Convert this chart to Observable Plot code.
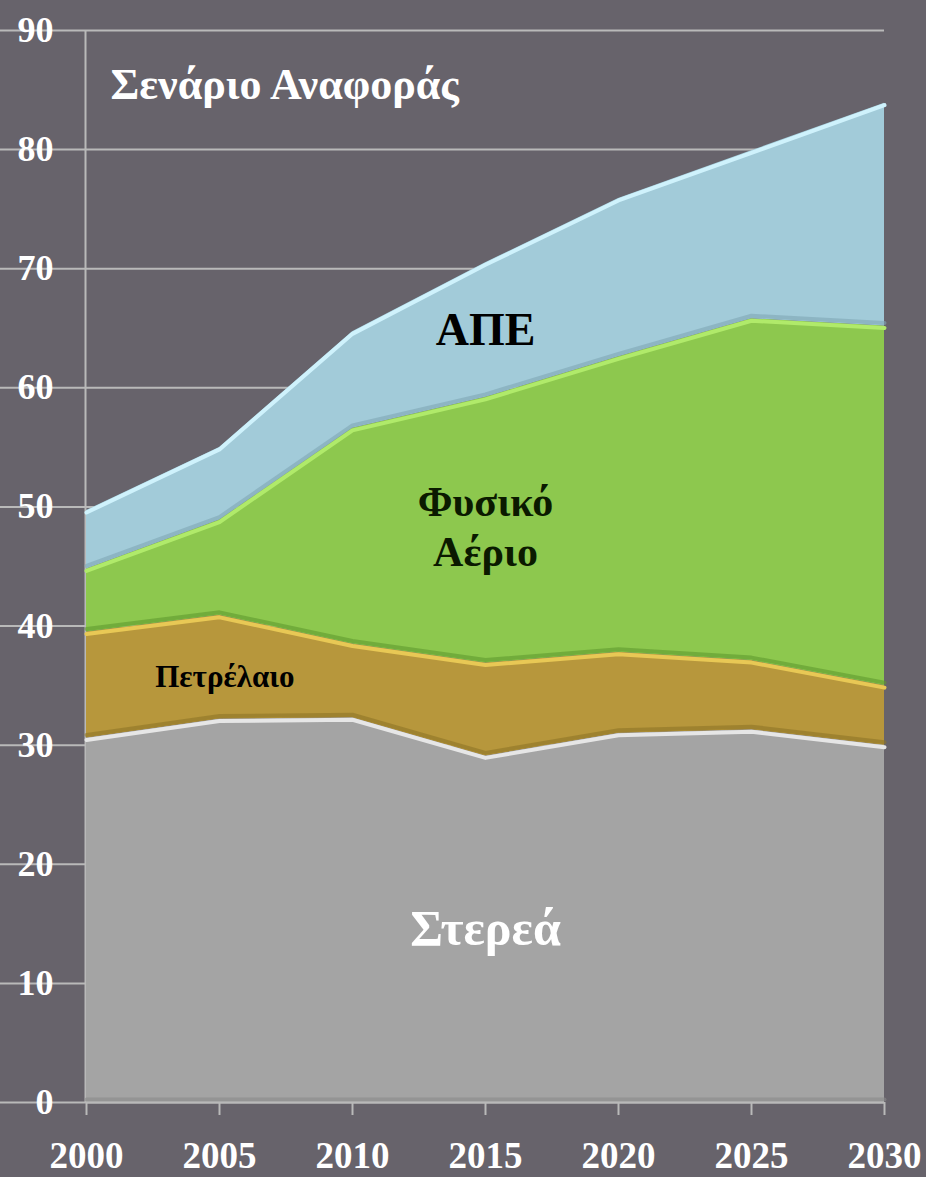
<!DOCTYPE html>
<html>
<head>
<meta charset="utf-8">
<script src="https://cdn.jsdelivr.net/npm/d3@7"></script>
<script src="https://cdn.jsdelivr.net/npm/@observablehq/plot@0.6"></script>
<style>
  html, body { margin: 0; padding: 0; background: #67636b; }
  #chart svg { display: block; }
</style>
</head>
<body>
<div id="chart"></div>
<script>
const years = [2000, 2005, 2010, 2015, 2020, 2025, 2030];
const seriesNames = ["Στερεά", "Πετρέλαιο", "Φυσικό Αέριο", "ΑΠΕ"];
const solids = [30.6, 32.2, 32.3, 29.1, 31.0, 31.3, 30.0];
const oil    = [8.9, 8.7, 6.2, 7.8, 6.8, 5.8, 5.0];
const gas    = [5.3, 8.0, 18.1, 22.3, 24.8, 28.7, 30.2];
const res    = [4.9, 6.1, 8.1, 11.3, 13.3, 14.1, 18.7];
const yTicks = [0, 10, 20, 30, 40, 50, 60, 70, 80, 90];
const title = "Σενάριο Αναφοράς";

const fills = ["#a4a4a4", "#b7973c", "#8dc84e", "#a2cbd9"];
const edges = ["#e6e6e6", "#e8c855", "#b0ea6a", "#cff2fc"];
const shades = ["#8a8a8a", "#8e7426", "#5f9a2e", "#7fa6b4"];

const values = [solids, oil, gas, res];
const data = seriesNames.flatMap((s, i) =>
  years.map((yr, j) => ({year: yr, series: s, value: values[i][j]})));

const edgeKey = s => s + " edge";
const shadeKey = s => s + " shade";

const font = "'Liberation Serif', 'DejaVu Serif', serif";

const chart = Plot.plot({
  width: 926,
  height: 1177,
  marginLeft: 86,
  marginRight: 42,
  marginTop: 30,
  marginBottom: 75,
  style: {background: "#67636b", color: "#ffffff", fontFamily: font, fontWeight: "bold", fontSize: "36px"},
  x: {domain: [2000, 2030], label: null},
  y: {domain: [0, 90], label: null},
  color: {
    domain: [...seriesNames, ...seriesNames.map(edgeKey), ...seriesNames.map(shadeKey)],
    range: [...fills, ...edges, ...shades]
  },
  marks: [
    Plot.gridY(yTicks, {stroke: "#b9b9b9", strokeOpacity: 1, strokeWidth: 2, x1: 1986, x2: 2030}),
    Plot.ruleX([2000], {stroke: "#b9b9b9", strokeWidth: 2, dx: -1}),
    Plot.areaY(data, {x: "year", y: "value", z: "series", fill: "series", order: seriesNames}),
    Plot.lineY(data, Plot.stackY1({x: "year", y: "value", z: "series", order: seriesNames,
      stroke: d => shadeKey(d.series), strokeWidth: 4, dy: -3, strokeOpacity: 0.6})),
    Plot.lineY(data, Plot.stackY2({x: "year", y: "value", z: "series", order: seriesNames,
      stroke: d => edgeKey(d.series), strokeWidth: 4, dy: 2})),
    Plot.axisY(yTicks, {label: null, tickSize: 0, tickPadding: 0, dx: -33, fontSize: 36, fontWeight: "bold", fill: "#ffffff", tickFormat: d => String(d)}),
    Plot.axisX(years, {label: null, tickSize: 13, tickPadding: 26, stroke: "#b9b9b9", strokeWidth: 2, fontSize: 37, fontWeight: "bold", fill: "#ffffff", tickFormat: d => String(d)}),
    Plot.ruleY([0], {stroke: "#b9b9b9", strokeWidth: 2}),
    Plot.text([title], {x: 2000.9, y: 85.4, text: d => d, textAnchor: "start", fill: "#ffffff", fontSize: 44, fontWeight: "bold"}),
    Plot.text([seriesNames[3]], {x: 2015, y: 64.8, text: d => d, fill: "#000000", fontSize: 46, fontWeight: "bold"}),
    Plot.text(["Φυσικό"], {x: 2015, y: 50.4, text: d => d, fill: "#0b1a00", fontSize: 42, fontWeight: "bold"}),
    Plot.text(["Αέριο"], {x: 2015, y: 46.2, text: d => d, fill: "#0b1a00", fontSize: 42, fontWeight: "bold"}),
    Plot.text([seriesNames[1]], {x: 2005.2, y: 35.7, text: d => d, fill: "#000000", fontSize: 31, fontWeight: "bold"}),
    Plot.text([seriesNames[0]], {x: 2015, y: 14.6, text: d => d, fill: "#ffffff", fontSize: 50, fontWeight: "bold"})
  ]
});

document.getElementById("chart").appendChild(chart);
</script>
</body>
</html>
